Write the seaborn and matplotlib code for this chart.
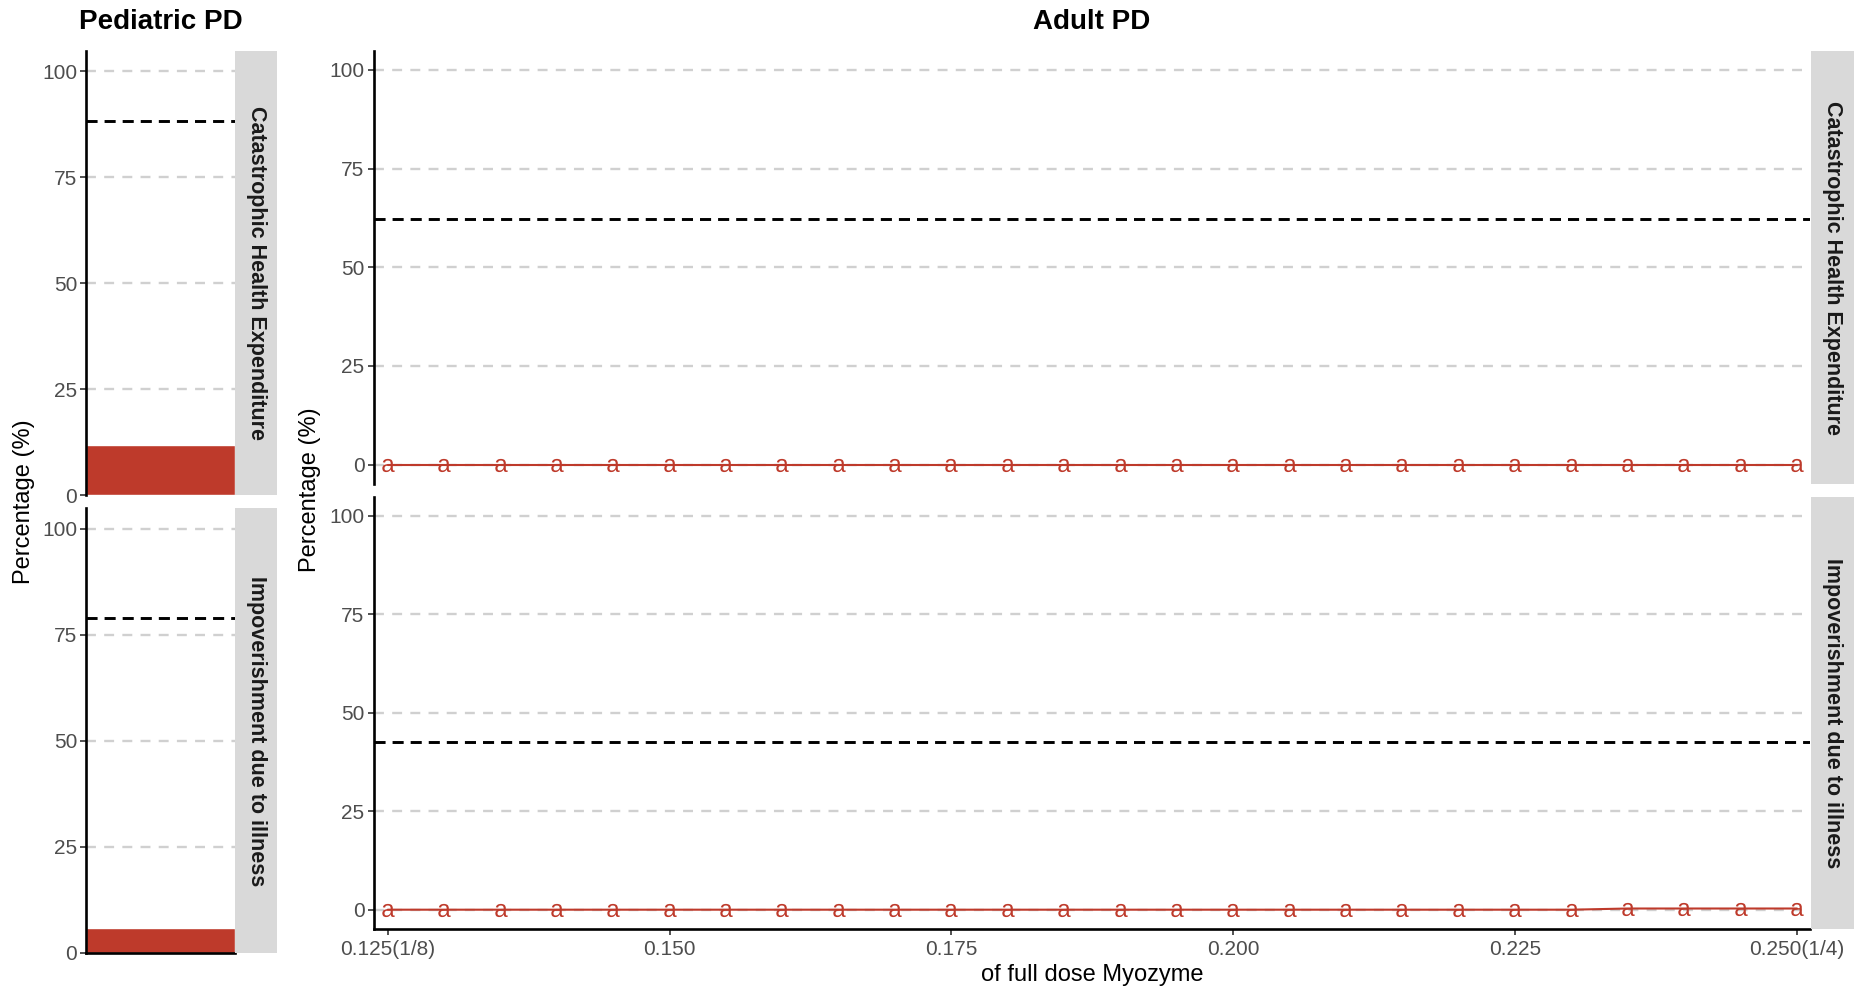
import matplotlib
matplotlib.use("Agg")
import matplotlib.pyplot as plt
import seaborn as sns
import pandas as pd

# ---------------- data ----------------
panel_titles = ["Pediatric PD", "Adult PD"]
outcomes = ["Catastrophic Health Expenditure", "Impoverishment due to illness"]

ped_values = [11.8, 5.9]          # bar heights (%)
ped_thresholds = [88.2, 79.0]     # black dashed reference (%)
adult_thresholds = [62.3, 42.6]   # black dashed reference (%)

doses = [0.125, 0.130, 0.135, 0.140, 0.145, 0.150, 0.155, 0.160, 0.165,
         0.170, 0.175, 0.180, 0.185, 0.190, 0.195, 0.200, 0.205, 0.210,
         0.215, 0.220, 0.225, 0.230, 0.235, 0.240, 0.245, 0.250]
adult_che = [0, 0, 0, 0, 0, 0, 0, 0, 0, 0, 0, 0, 0,
             0, 0, 0, 0, 0, 0, 0, 0, 0, 0, 0, 0, 0]
adult_imp = [0, 0, 0, 0, 0, 0, 0, 0, 0, 0, 0, 0, 0,
             0, 0, 0, 0, 0, 0, 0, 0, 0, 0.3, 0.3, 0.3, 0.3]

grid_levels = [0, 25, 50, 75, 100]
y_ticks = [0, 25, 50, 75, 100]
x_ticks = [0.125, 0.150, 0.175, 0.200, 0.225, 0.250]
x_ticklabels = ["0.125(1/8)", "0.150", "0.175", "0.200", "0.225", "0.250(1/4)"]
y_label = "Percentage (%)"
x_label = "of full dose Myozyme"

# ---------------- style ----------------
sns.set_theme(style="white")
plt.rcParams["font.family"] = ["Liberation Sans", "DejaVu Sans"]
plt.rcParams["mathtext.fontset"] = "custom"
plt.rcParams["mathtext.rm"] = "Liberation Sans"
plt.rcParams["mathtext.it"] = "Liberation Sans"

RED = "#BE3A2B"
GRID = "#D0D0D0"
STRIP = "#D9D9D9"
TICKC = "#4D4D4D"
TICK_FS = 15

GRID_KW = dict(color=GRID, lw=1.7, dashes=(4.2, 3.5), zorder=0)
REF_KW = dict(color="black", lw=2.1, dashes=(3.8, 2.4), zorder=3)

W, H = 1854, 989
fig = plt.figure(figsize=(W / 100, H / 100), dpi=100)


def frac(x0, x1, y0, y1):
    return [x0 / W, 1 - y1 / H, (x1 - x0) / W, (y1 - y0) / H]


ped_rows = [(50.8, 495.4), (508.4, 953.0)]
adu_rows = [(51.0, 484.4), (496.6, 929.4)]
ped_x = (86.3, 235.3)
ped_strip = (235.3, 276.7)
adu_x = (373.6, 1810.3)
adu_strip = (1811.0, 1854.0)


def style_y(ax):
    ax.set_yticks(y_ticks)
    ax.set_yticklabels([str(t) for t in y_ticks])
    ax.tick_params(axis="y", which="both", left=True, length=4.5, width=1.2,
                   color="#333333", labelsize=TICK_FS, labelcolor=TICKC, pad=2)
    for s in ["top", "right"]:
        ax.spines[s].set_visible(False)
    ax.spines["left"].set_color("black")
    ax.spines["left"].set_linewidth(1.9)
    ax.set_ylabel("")
    ax.set_xlabel("")


def add_strip(rect, text):
    sax = fig.add_axes(rect)
    sax.set_facecolor(STRIP)
    sax.set_xticks([])
    sax.set_yticks([])
    for s in sax.spines.values():
        s.set_visible(False)
    sax.text(0.5, 0.5, text, rotation=270, ha="center", va="center",
             fontsize=15.5, fontweight="bold", color="#1A1A1A",
             transform=sax.transAxes)


# ---------------- Pediatric panels ----------------
for i, (y0, y1) in enumerate(ped_rows):
    ax = fig.add_axes(frac(ped_x[0], ped_x[1], y0, y1))
    for g in grid_levels:
        ax.axhline(g, **GRID_KW)
    df = pd.DataFrame({"grp": [outcomes[i]], "val": [ped_values[i]]})
    sns.barplot(data=df, x="grp", y="val", color=RED, saturation=1,
                width=1.0, ax=ax, zorder=2)
    ax.axhline(ped_thresholds[i], **REF_KW)
    ax.set_xlim(-0.5, 0.5)
    ax.set_ylim(0, 104.8)
    ax.set_xticks([])
    style_y(ax)
    ax.spines["bottom"].set_visible(i == 1)
    ax.spines["bottom"].set_color("black")
    ax.spines["bottom"].set_linewidth(1.9)
    add_strip(frac(ped_strip[0], ped_strip[1], y0, y1), outcomes[i])

# ---------------- Adult panels ----------------
adult_series = [adult_che, adult_imp]
for i, (y0, y1) in enumerate(adu_rows):
    ax = fig.add_axes(frac(adu_x[0], adu_x[1], y0, y1))
    for g in grid_levels:
        ax.axhline(g, **GRID_KW)
    ax.axhline(adult_thresholds[i], **REF_KW)
    df = pd.DataFrame({"dose": doses, "pct": adult_series[i]})
    sns.lineplot(data=df, x="dose", y="pct", color=RED, lw=1.5, ax=ax,
                 marker=r"$\mathrm{a}$", markersize=9.5,
                 markeredgewidth=0, markeredgecolor=RED,
                 markerfacecolor=RED, zorder=4)
    ax.set_xlim(0.12374, 0.25118)
    ax.set_ylim(-5, 104.8)
    style_y(ax)
    if i == 1:
        ax.set_xticks(x_ticks)
        ax.set_xticklabels(x_ticklabels)
        ax.tick_params(axis="x", bottom=True, length=4.5, width=1.2,
                       color="#333333", labelsize=TICK_FS, labelcolor=TICKC,
                       pad=3)
        ax.spines["bottom"].set_color("black")
        ax.spines["bottom"].set_linewidth(1.9)
    else:
        ax.set_xticks([])
        ax.spines["bottom"].set_visible(False)
    ax.set_xlabel("")
    ax.set_ylabel("")
    add_strip(frac(adu_strip[0], adu_strip[1], y0, y1), outcomes[i])

# ---------------- titles and labels ----------------
fig.text(161 / W, 1 - 22 / H, panel_titles[0], ha="center", va="center",
         fontsize=20, fontweight="bold", color="black")
fig.text(1092 / W, 1 - 22 / H, panel_titles[1], ha="center", va="center",
         fontsize=20, fontweight="bold", color="black")
fig.text(24 / W, 1 - 502 / H, y_label, rotation=90, ha="center",
         va="center", fontsize=17, color="black")
fig.text(310 / W, 1 - 490 / H, y_label, rotation=90, ha="center",
         va="center", fontsize=17, color="black")
fig.text(1092 / W, 1 - 975 / H, x_label, ha="center", va="center",
         fontsize=17, color="black")

fig.savefig("out.png", dpi=100, facecolor="white")
